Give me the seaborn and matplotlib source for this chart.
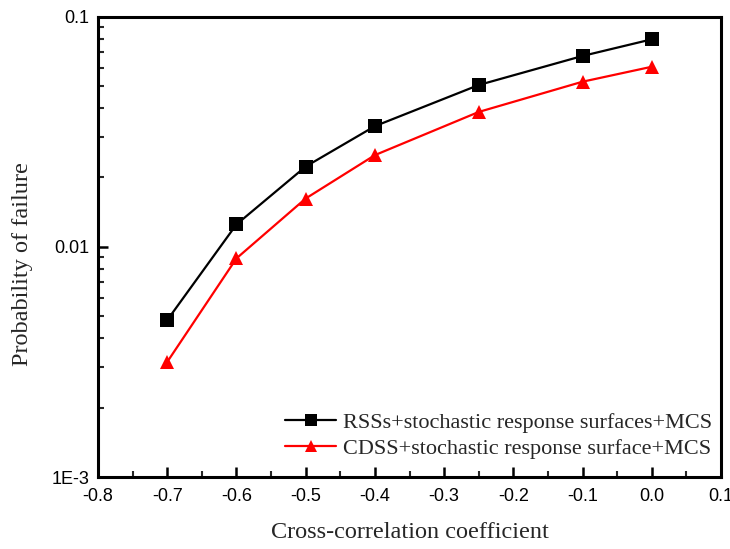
import numpy as np
import pandas as pd
import matplotlib
matplotlib.use("Agg")
import matplotlib.pyplot as plt
import seaborn as sns
from matplotlib.ticker import FixedLocator, MultipleLocator, FuncFormatter, NullFormatter
from matplotlib.lines import Line2D

# ---- data ----
x_vals = [-0.7, -0.6, -0.5, -0.4, -0.25, -0.1, 0.0]
rss_vals = [0.0048, 0.0125, 0.0223, 0.0334, 0.0504, 0.0674, 0.0796]
cdss_vals = [0.00316, 0.0089, 0.0162, 0.0250, 0.0385, 0.0521, 0.0605]
series_names = ["RSSs+stochastic response surfaces+MCS",
                "CDSS+stochastic response surface+MCS"]
y_ticks = [0.001, 0.01, 0.1]
y_tick_labels = ["1E-3", "0.01", "0.1"]
x_label = "Cross-correlation coefficient"
y_label = "Probability of failure"

df = pd.DataFrame({
    "x": x_vals * 2,
    "y": rss_vals + cdss_vals,
    "series": [series_names[0]] * len(x_vals) + [series_names[1]] * len(x_vals),
})

sns.set_theme(style="white")
plt.rcParams["font.family"] = ["Liberation Sans", "DejaVu Sans"]

fig = plt.figure(figsize=(7.30, 5.49), dpi=100)
ax = fig.add_axes([98 / 730, 72 / 549, 623 / 730, 460.5 / 549])

colors = {series_names[0]: "#000000", series_names[1]: "#ff0000"}
markers = {series_names[0]: "s", series_names[1]: "^"}

sns.lineplot(data=df, x="x", y="y", hue="series", style="series",
             palette=colors, markers=markers, dashes=False,
             markersize=9.5, linewidth=1.6, markeredgewidth=0,
             ax=ax, legend=False)

ax.set_yscale("log")
ax.set_xlim(-0.8, 0.1)
ax.set_ylim(0.001, 0.1)

ax.xaxis.set_major_locator(MultipleLocator(0.1))
ax.xaxis.set_minor_locator(MultipleLocator(0.05))
ax.xaxis.set_major_formatter(FuncFormatter(lambda v, p: f"{v:.1f}" if abs(v) > 1e-9 else "0.0"))

ax.yaxis.set_major_locator(FixedLocator(y_ticks))
ax.yaxis.set_major_formatter(FuncFormatter(
    lambda v, p: y_tick_labels[int(np.argmin([abs(np.log10(v) - np.log10(t)) for t in y_ticks]))]))
minor = [m * 10.0 ** e for e in (-3, -2) for m in range(2, 10)]
ax.yaxis.set_minor_locator(FixedLocator(minor))
ax.yaxis.set_minor_formatter(NullFormatter())

for s in ax.spines.values():
    s.set_linewidth(2.2)
    s.set_color("black")

ax.tick_params(axis="both", which="major", direction="in", length=7, width=1.8,
               labelsize=13, colors="black", top=False, right=False,
               bottom=True, left=True)
ax.tick_params(axis="both", which="minor", direction="in", length=4, width=1.5,
               top=False, right=False, bottom=True, left=True)
ax.tick_params(axis="x", which="major", pad=8)
ax.tick_params(axis="y", which="major", pad=6)

serif = ["Liberation Serif", "DejaVu Serif"]
ax.set_xlabel(x_label, fontsize=17.5, family=serif, labelpad=12)
ax.set_ylabel(y_label, fontsize=17.5, family=serif)
ax.yaxis.set_label_coords(-0.104, 0.4625)

handles = [Line2D([], [], color=colors[n], marker=markers[n], markersize=9,
                  linewidth=1.6, markeredgewidth=0) for n in series_names]
ax.legend(handles, series_names, loc="lower right", frameon=False,
          prop={"family": serif, "size": 16}, handlelength=2.3,
          handletextpad=0.3, labelspacing=0.22, borderpad=0,
          borderaxespad=0, bbox_to_anchor=(0.9855, 0.04))

fig.savefig("out.png", dpi=100)
